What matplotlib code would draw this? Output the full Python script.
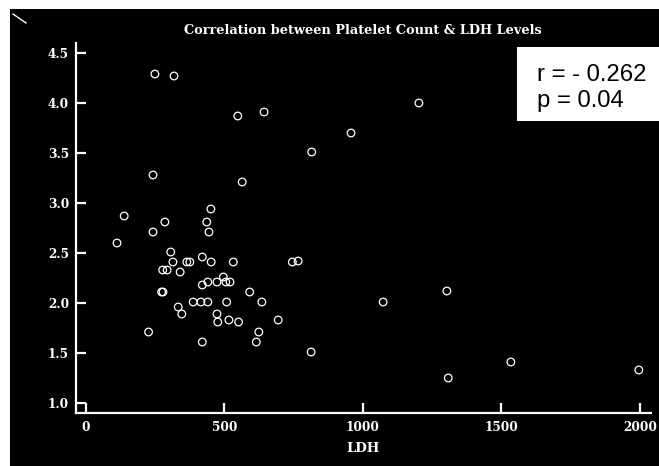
import matplotlib
matplotlib.use('Agg')
import matplotlib.pyplot as plt
from matplotlib.patches import Rectangle
from matplotlib.lines import Line2D

# LDH vs platelet count
ldh = [249, 318, 548, 643, 815, 242, 564, 138, 285, 242, 436, 444, 451,
       1202, 957,
       112, 306, 314, 277, 293, 340, 364, 375, 420, 452, 532,
       420, 440, 473, 496, 505, 520, 273, 278,
       387, 415, 440, 508, 591, 635, 333, 346, 473, 476, 516, 551,
       694, 624, 615, 420, 226, 813, 745, 766,
       1073, 1303, 1308, 1534, 1996]
platelet = [4.29, 4.27, 3.87, 3.91, 3.51, 3.28, 3.21, 2.87, 2.81, 2.71, 2.81, 2.71, 2.94,
            4.00, 3.70,
            2.60, 2.51, 2.41, 2.33, 2.33, 2.31, 2.41, 2.41, 2.46, 2.41, 2.41,
            2.18, 2.21, 2.21, 2.26, 2.21, 2.21, 2.11, 2.11,
            2.01, 2.01, 2.01, 2.01, 2.11, 2.01, 1.96, 1.89, 1.89, 1.81, 1.83, 1.81,
            1.83, 1.71, 1.61, 1.61, 1.71, 1.51, 2.41, 2.42,
            2.01, 2.12, 1.25, 1.41, 1.33]

x_ticks = [0, 500, 1000, 1500, 2000]
y_ticks = [1.0, 1.5, 2.0, 2.5, 3.0, 3.5, 4.0, 4.5]

title = 'Correlation between Platelet Count & LDH Levels'
stats_lines = ['r = - 0.262', 'p = 0.04']

W, H = 659, 466
serif = ['DejaVu Serif']
sans = ['Liberation Sans', 'DejaVu Sans']

fig = plt.figure(figsize=(W / 100, H / 100), dpi=100, facecolor='white')

# black canvas with a thin white margin on the top and left
fig.patches.append(Rectangle((10 / W, 0), 1 - 10 / W, 1 - 9 / H,
                             transform=fig.transFigure, facecolor='black',
                             edgecolor='none', zorder=-10))
# small stray stroke in the corner of the original
fig.lines.append(Line2D([13 / W, 26 / W], [1 - 14 / H, 1 - 23 / H],
                        transform=fig.transFigure, color='white', lw=1))

ax = fig.add_axes([76 / W, 1 - 413 / H, (651 - 76) / W, (413 - 43) / H])
ax.set_zorder(1)
ax.set_facecolor('black')

ax.scatter(ldh, platelet, s=30, facecolors='none', edgecolors='white',
           linewidths=0.9, zorder=3)

ax.set_xlim(-36, 2040)
ax.set_ylim(0.9, 4.6)
ax.set_xticks(x_ticks)
ax.set_yticks(y_ticks)
ax.set_xticklabels([str(v) for v in x_ticks])
ax.set_yticklabels([f'{v:.1f}' for v in y_ticks])

for side in ['top', 'right']:
    ax.spines[side].set_visible(False)
for side in ['left', 'bottom']:
    ax.spines[side].set_color('white')
    ax.spines[side].set_linewidth(1.6)

ax.tick_params(axis='both', direction='in', length=7, width=1.6,
               colors='white')
ax.tick_params(axis='x', pad=6)
ax.tick_params(axis='y', pad=5)
for lab in ax.get_xticklabels() + ax.get_yticklabels():
    lab.set_fontfamily(serif)
    lab.set_fontweight('bold')
    lab.set_fontsize(8.7)

fig.text(363 / W, 1 - 30 / H, title, ha='center', va='center',
         color='white', fontsize=9.3, fontweight='bold', family=serif)
fig.text(363 / W, 1 - 448 / H, 'LDH', ha='center', va='center',
         color='white', fontsize=9.5, fontweight='bold', family=serif)

# stats box in the upper right
fig.patches.append(Rectangle((517 / W, 1 - 121 / H), (W - 517) / W, 74 / H,
                             transform=fig.transFigure, facecolor='white',
                             edgecolor='none', zorder=5))
fig.text(537 / W, 1 - 81 / H, stats_lines[0], ha='left', va='baseline',
         color='black', fontsize=17.2, family=sans, zorder=6)
fig.text(537 / W, 1 - 107 / H, stats_lines[1], ha='left', va='baseline',
         color='black', fontsize=17.2, family=sans, zorder=6)

plt.savefig('out.png', dpi=100, facecolor='white')
plt.close()
